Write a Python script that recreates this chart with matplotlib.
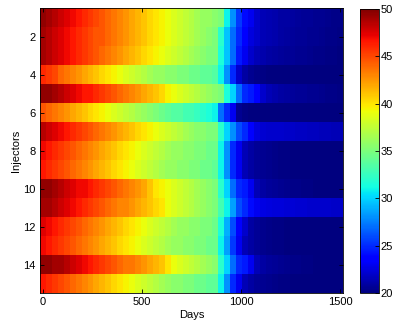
import numpy as np
import matplotlib
matplotlib.use("Agg")
import matplotlib.pyplot as plt

# days sampled every 30 days, 15 injectors
days = np.arange(0, 1501, 30)
injectors = np.arange(1, 16)

inj01 = [49.5,49,48.5,48,47.5,47,46.5,46,45.5,45,44.5,44,43.5,43,42.5,42,41.5,41,40.5,40,39.5,39,38.5,38,37.5,37,36.5,36,36,35.5,35,31,28,25.5,24,23,22,21.5,21.3,21.2,21,21,20.9,20.8,20.7,20.6,20.5,20.5,20.4,20.3,20.3]
inj02 = [49,48.5,48,47.5,47,46.5,46,45.5,45,44.5,44.5,44,43.5,43,42.5,42,41.5,41,40.5,40,39.5,39,38.5,38,37.5,37,36.5,36,35.5,35,32,29.5,27,25,23.5,22.5,22,21.5,21.3,21.2,21,20.9,20.8,20.7,20.6,20.5,20.5,20.4,20.3,20.3,20.2]
inj03 = [49,48.5,48,47.5,47,46.5,46,45.5,45,44.5,44,43.5,43,42.5,42,41.5,41,40.5,40,39.5,39,38.5,38,37.5,37,36.5,36,35.5,35,35,31.5,29.5,27,24.5,23,22,21.5,21.2,21,20.9,20.8,20.7,20.6,20.5,20.5,20.4,20.3,20.3,20.2,20.2,20.1]
inj04 = [46,45.5,45,44,43.5,43,42.5,42,41.5,41,40.5,40,39.5,39,38.5,38,37.5,37,36.5,36,36,35.5,35.5,35,35,34.5,34.5,34,34,33.5,31,28,25,22,21,20.5,20.3,20.2,20.1,20.1,20,20,20,20,20,20,20,20,20,20,20]
inj05 = [49.5,49.5,49,48.5,48,47.5,47,46.5,46.5,46,45.5,45,44.5,44,43.5,43,42.5,42,41.5,41,40.5,39.5,39,38.5,38,37.5,37,36.5,36,35.5,35,31.5,30,27,25,24.5,23.5,22,21.5,21.2,21,20.9,20.8,20.7,20.6,20.5,20.5,20.4,20.3,20.3,20.2]
inj06 = [44.5,44,43.5,43,42.5,42,41.5,41,40.5,40,39.5,39,38.5,38,37.5,37,36.5,36,35.5,35,34.5,34,33.5,33.5,33,33,32.5,32,31.5,31,27,25,23,20.5,20.2,20,20,20,20,20,20,20,20,20,20,20,20,20,20,20,20]
inj07 = [48.5,48,47.5,47,46.5,46,45.5,45,44.5,44,43.5,43,42.5,42,41.5,41,40.5,40,39.5,39,38.5,38,37.5,37,36.5,36,35.5,35.5,35,35,32,30,28,26,25,23.5,22.5,22.2,22.1,22,22,21.9,21.9,21.8,21.8,21.7,21.7,21.6,21.6,21.5,21.5]
inj08 = [47,46.5,46,45.5,45,44.5,44,43.5,43,42.5,42,41.5,41,40.5,40,39.5,39,38.5,38,37.5,37,36.5,36,36,35.5,35.5,35,35,34.5,34.5,31,28,25,23,21.5,21,20.7,20.5,20.4,20.3,20.2,20.2,20.1,20.1,20,20,20,20,20,20,20]
inj09 = [46.5,46,45.5,45,44.5,44,43.5,43,42.5,42,41.5,41,40.5,40,39.5,39,38.5,38,37.5,37,36.5,36,36,35.5,35.5,35,35,34.5,34.5,34,31,28,25,23,21.5,21,20.7,20.5,20.4,20.3,20.2,20.2,20.1,20.1,20,20,20,20,20,20,20]
inj10 = [49.5,49.5,49,48.5,48,47.5,47,47,46.5,46,45.5,45,44.5,44,43.5,43,42.5,42,41,40,39.5,39,38.5,38,37.5,37,36.5,36,35.5,35,32,30,27,25,24.5,23,21.5,21,20.8,20.6,20.5,20.4,20.3,20.3,20.2,20.2,20.1,20.1,20,20,20]
inj11 = [49,49,48.5,48,47.5,47,46.5,46,45.5,45,44.5,44,43.5,43,43,42.5,42,41.5,41,40.5,40,39,38.5,38,37.5,37,36.5,36,35.5,35,33,31,28.5,26,25,24,23,22.6,22.5,22.4,22.4,22.3,22.3,22.2,22.2,22.1,22.1,22,22,21.9,21.9]
inj12 = [47.5,47,46.5,46,45.5,45,44.5,44,43.5,43,42.5,42,41.5,41,40.5,40,39.5,39,38.5,38,37.5,37,36.5,36,36,35.5,35.5,35,35,34.5,31.5,29,26,23.5,22,21,20.6,20.4,20.3,20.2,20.2,20.1,20.1,20,20,20,20,20,20,20,20]
inj13 = [47,46.5,46,45.5,45,44.5,44,43.5,43,42.5,42,41.5,41,40.5,40,39.5,39,38.5,38,37.5,37,36.5,36,36,35.5,35.5,35,35,34.5,34.5,31,28.5,25.5,23,21.5,21,20.6,20.4,20.3,20.2,20.2,20.1,20.1,20,20,20,20,20,20,20,20]
inj14 = [49.5,49.5,49,49,48.5,48,47.5,47,46.5,46,45.5,45,44.5,44,43.5,43.5,43,42.5,42,41.5,41,40,39,38.5,38,37.5,37,36.5,36,35.5,32,30,27,25,24.5,23,21.5,21,20.8,20.6,20.5,20.4,20.3,20.3,20.2,20.2,20.1,20.1,20,20,20]
inj15 = [46.5,46,45.5,45,44.5,44,43.5,43,42.5,42,41.5,41,40.5,40,39.5,39,38.5,38,37.5,37,36.5,36,35.5,35.5,35,35,34.5,34.5,34,34,31,28,25,23,21.5,21,20.7,20.5,20.4,20.3,20.2,20.2,20.1,20.1,20,20,20,20,20,20,20]

grid = np.array([inj01, inj02, inj03, inj04, inj05, inj06, inj07, inj08,
                 inj09, inj10, inj11, inj12, inj13, inj14, inj15])

plt.rcParams['font.family'] = ['Liberation Sans', 'DejaVu Sans']
plt.rcParams['font.size'] = 8

fig = plt.figure(figsize=(3.95, 3.24), dpi=100)
ax = fig.add_axes([40/395, 31/324, 303/395, 285/324])
cax = fig.add_axes([360/395, 31/324, 19/395, 284/324])

half = (days[1] - days[0]) / 2
im = ax.imshow(grid, cmap='jet', vmin=20, vmax=50, aspect='auto',
               interpolation='nearest', origin='upper',
               extent=[days[0] - half, days[-1] + half,
                       injectors[-1] + 0.5, injectors[0] - 0.5])

ax.set_xticks([0, 500, 1000, 1500])
ax.set_yticks([2, 4, 6, 8, 10, 12, 14])
ax.tick_params(direction='in', length=3, width=0.6, top=True, right=True,
               labelsize=8, pad=3)
ax.set_xlabel('Days', fontsize=8, labelpad=2)
ax.set_ylabel('Injectors', fontsize=8, labelpad=2)
for s in ax.spines.values():
    s.set_linewidth(0.6)

cb = fig.colorbar(im, cax=cax, ticks=[20, 25, 30, 35, 40, 45, 50])
cb.ax.tick_params(direction='in', length=3, width=0.6, labelsize=8, pad=1)
cb.outline.set_linewidth(0.6)

fig.savefig('out.png', dpi=100)
